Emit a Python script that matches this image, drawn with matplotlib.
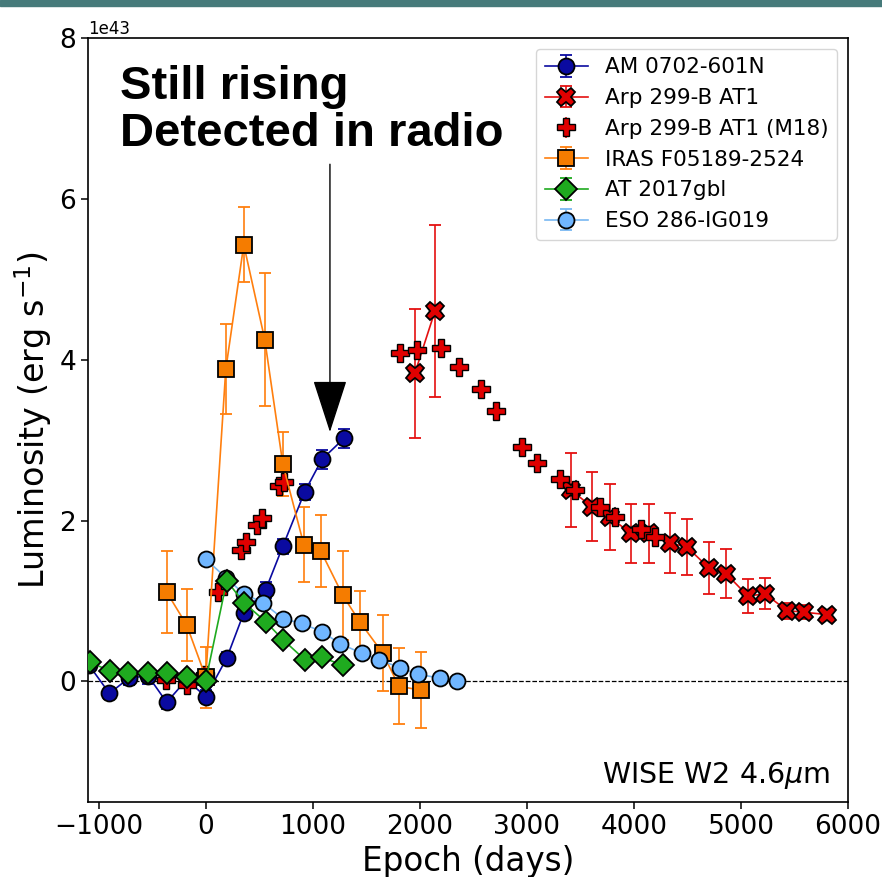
import numpy as np
import matplotlib
matplotlib.use("Agg")
import matplotlib.pyplot as plt
from matplotlib.patches import Rectangle

# ---------------- data (luminosity in units of 1e43 erg/s) ----------------
am_days = [-1090, -900, -720, -540, -365, -180, 0, 196, 355, 560, 720, 925, 1085, 1290]
am_lum = [0.20, -0.15, 0.04, 0.07, -0.26, 0.02, -0.19, 0.29, 0.85, 1.14, 1.68, 2.36, 2.76, 3.02]
am_err = [0.08, 0.07, 0.08, 0.10, 0.08, 0.08, 0.08, 0.08, 0.08, 0.10, 0.09, 0.10, 0.12, 0.12]

arp_days = [1953, 2140, np.nan, 3411, 3607, 3776, 3972, 4140, 4336, 4495, 4701, 4860, 5065, 5224, 5430, 5589, 5804]
arp_lum = [3.83, 4.60, np.nan, 2.38, 2.17, 2.04, 1.84, 1.84, 1.72, 1.67, 1.41, 1.34, 1.06, 1.09, 0.88, 0.86, 0.83]
arp_err = [0.80, 1.07, np.nan, 0.46, 0.43, 0.41, 0.37, 0.37, 0.37, 0.35, 0.32, 0.30, 0.21, 0.19, 0.10, 0.09, 0.03]

m18_days = [-370, -180, -10, 112, 327, 374, 477, 523, 682, 729, 1813, 1972, 2196, 2364, 2570, 2710,
            2953, 3093, 3308, 3449, 3682, 3822, 4065, 4196]
m18_lum = [0.02, -0.04, 0.08, 1.11, 1.63, 1.73, 1.94, 2.03, 2.43, 2.48, 4.08, 4.12, 4.15, 3.91, 3.64, 3.36,
           2.92, 2.72, 2.52, 2.38, 2.17, 2.04, 1.90, 1.80]
m18_err = [0.08] * 24

iras_days = [-365, -178, 0, 187, 355, 551, 720, 916, 1075, 1280, 1439, 1654, 1804, 2009]
iras_lum = [1.11, 0.70, 0.05, 3.88, 5.43, 4.25, 2.70, 1.70, 1.62, 1.07, 0.74, 0.35, -0.06, -0.11]
iras_err = [0.51, 0.45, 0.38, 0.56, 0.47, 0.83, 0.40, 0.47, 0.45, 0.55, 0.38, 0.47, 0.47, 0.47]

gbl_days = [-1084, -897, -729, -542, -365, -178, 0, 196, 355, 561, 720, 925, 1084, 1280]
gbl_lum = [0.24, 0.13, 0.11, 0.11, 0.11, 0.05, 0.01, 1.25, 0.98, 0.74, 0.52, 0.27, 0.30, 0.20]
gbl_err = [0.03] * 14

eso_days = [0, 187, 355, 533, 720, 897, 1084, 1252, 1458, 1617, 1813, 1981, 2187, 2346]
eso_lum = [1.52, 1.29, 1.09, 0.98, 0.78, 0.72, 0.62, 0.47, 0.35, 0.27, 0.17, 0.09, 0.04, 0.00]
eso_err = [0.03] * 14

labels = ["AM 0702-601N", "Arp 299-B AT1", "Arp 299-B AT1 (M18)",
          "IRAS F05189-2524", "AT 2017gbl", "ESO 286-IG019"]

SCALE = 1e43

fig = plt.figure(figsize=(8.82, 8.77), dpi=100)
fig.patches.append(Rectangle((0, 1 - 6 / 877), 1, 6 / 877, transform=fig.transFigure,
                             color="#467a7a", zorder=10))
ax = fig.add_axes([0.0998, 0.0855, 0.8617, 0.8712])


def sc(v):
    return np.array(v, dtype=float) * SCALE


common = dict(capsize=4, elinewidth=1.2, lw=1.2, mec="k", mew=1.3)

h_am = ax.errorbar(am_days, sc(am_lum), yerr=sc(am_err), fmt="-o", color="#0a0aa0",
                   mfc="#0a0aa0", ms=11.5, label=labels[0], zorder=3, **common)
h_arp = ax.errorbar(arp_days, sc(arp_lum), yerr=sc(arp_err), fmt="-X", color="#e41010",
                    mfc="#e00000", ms=13, label=labels[1], zorder=3, **common)
h_m18 = ax.errorbar(m18_days, sc(m18_lum), yerr=sc(m18_err), fmt="P", ls="none",
                    color="#e41010", mfc="#e00000", ms=13, label=labels[2], zorder=3,
                    capsize=0, elinewidth=1.2, mec="k", mew=1.0)
h_iras = ax.errorbar(iras_days, sc(iras_lum), yerr=sc(iras_err), fmt="-s", color="#ff7f0e",
                     mfc="#f57c00", ms=11.5, label=labels[3], zorder=3, **common)
h_eso = ax.errorbar(eso_days, sc(eso_lum), yerr=sc(eso_err), fmt="-o", color="#78b8f2",
                    mfc="#70b6ff", ms=11.5, label=labels[5], zorder=3, **common)
h_gbl = ax.errorbar(gbl_days, sc(gbl_lum), yerr=sc(gbl_err), fmt="-D", color="#1faa1f",
                    mfc="#1faa1f", ms=11, label=labels[4], zorder=3, **common)

ax.axhline(0, color="k", ls="--", lw=0.9, zorder=1)

ax.set_xlim(-1100, 6000)
ax.set_ylim(-1.5e43, 8e43)
ax.set_xticks([-1000, 0, 1000, 2000, 3000, 4000, 5000, 6000])
ax.set_yticks([0, 2e43, 4e43, 6e43, 8e43])
ax.tick_params(labelsize=19, length=5, width=1.1)
ax.yaxis.get_offset_text().set_fontsize(12)
for s in ax.spines.values():
    s.set_linewidth(1.2)

ax.set_xlabel("Epoch (days)", fontsize=23.5)
ax.set_ylabel("Luminosity (erg s$^{-1}$)", fontsize=24)

ax.legend([h_am, h_arp, h_m18, h_iras, h_gbl, h_eso], labels, loc="upper right",
          fontsize=15.5)

ax.text(0.976, 0.025, "WISE W2 4.6$\\mu$m", transform=ax.transAxes, ha="right",
        va="baseline", fontsize=20.5)

ax.text(0.042, 0.965, "Still rising\nDetected in radio", transform=ax.transAxes,
        ha="left", va="top", fontsize=34, fontweight="bold",
        family=["Liberation Sans", "DejaVu Sans"], linespacing=1.1)

ax.annotate("", xy=(1160, 3.10e43), xytext=(1160, 6.43e43),
            arrowprops=dict(arrowstyle="-|>,head_length=1.7,head_width=0.55",
                            color="k", lw=1.0, shrinkA=0, shrinkB=0,
                            mutation_scale=20))

fig.savefig("out.png", dpi=100)
